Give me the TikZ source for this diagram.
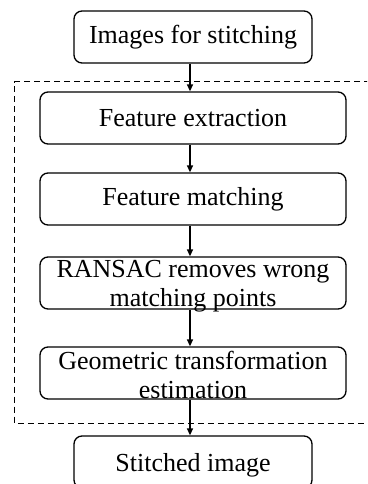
\documentclass[tikz,border=0pt]{standalone}
\usepackage{fontspec}
\setmainfont{Liberation Serif}
\usetikzlibrary{arrows.meta}
\begin{document}
\begin{tikzpicture}[x=1pt,y=-1pt,
  stepbox/.style={draw,line width=1.3pt,rounded corners=8pt,inner sep=0pt},
  lbl/.style={font=\fontsize{26}{29.5}\selectfont,align=center,inner sep=0pt},
  arr/.style={line width=1.4pt,-{Triangle[length=7pt,width=6pt]}}]
\useasboundingbox (0,0) rectangle (367,484);
\clip (0,0) rectangle (367,484);
% dashed frame
\draw[line width=1pt,dash pattern=on 6pt off 4pt] (400,82) -- (14.5,82) -- (14.5,423) -- (400,423);
% boxes
\node[stepbox,minimum width=238pt,minimum height=52pt] (b1) at (193,37) {};
\node[stepbox,minimum width=306pt,minimum height=52pt] (b2) at (193,118) {};
\node[stepbox,minimum width=306pt,minimum height=52pt] (b3) at (193,199) {};
\node[stepbox,minimum width=306pt,minimum height=52pt] (b4) at (193,283) {};
\node[stepbox,minimum width=306pt,minimum height=52pt] (b5) at (193,373) {};
\node[stepbox,minimum width=238pt,minimum height=52pt] (b6) at (193,462) {};
% texts
\node[lbl] (t1) at (b1) {Images for stitching};
\node[lbl] (t2) at (b2) {Feature extraction};
\node[lbl] (t3) at (b3) {Feature matching};
\node[lbl] (t4) at (193,286) {RANSAC removes wrong\\matching points};
\node[lbl] (t5) at (193,375) {Geometric transformation\\estimation};
\node[lbl,anchor=base] (t6) at (193,471) {Stitched image};
% arrows
\draw[arr] (b1.south -| 190,0) -- (b2.north -| 190,0);
\draw[arr] (b2.south -| 190,0) -- (b3.north -| 190,0);
\draw[arr] (b3.south -| 190,0) -- (b4.north -| 190,0);
\draw[arr] (b4.south -| 190,0) -- (b5.north -| 190,0);
\draw[arr] (b5.south -| 190,0) -- (b6.north -| 190,0);
\end{tikzpicture}
\end{document}
